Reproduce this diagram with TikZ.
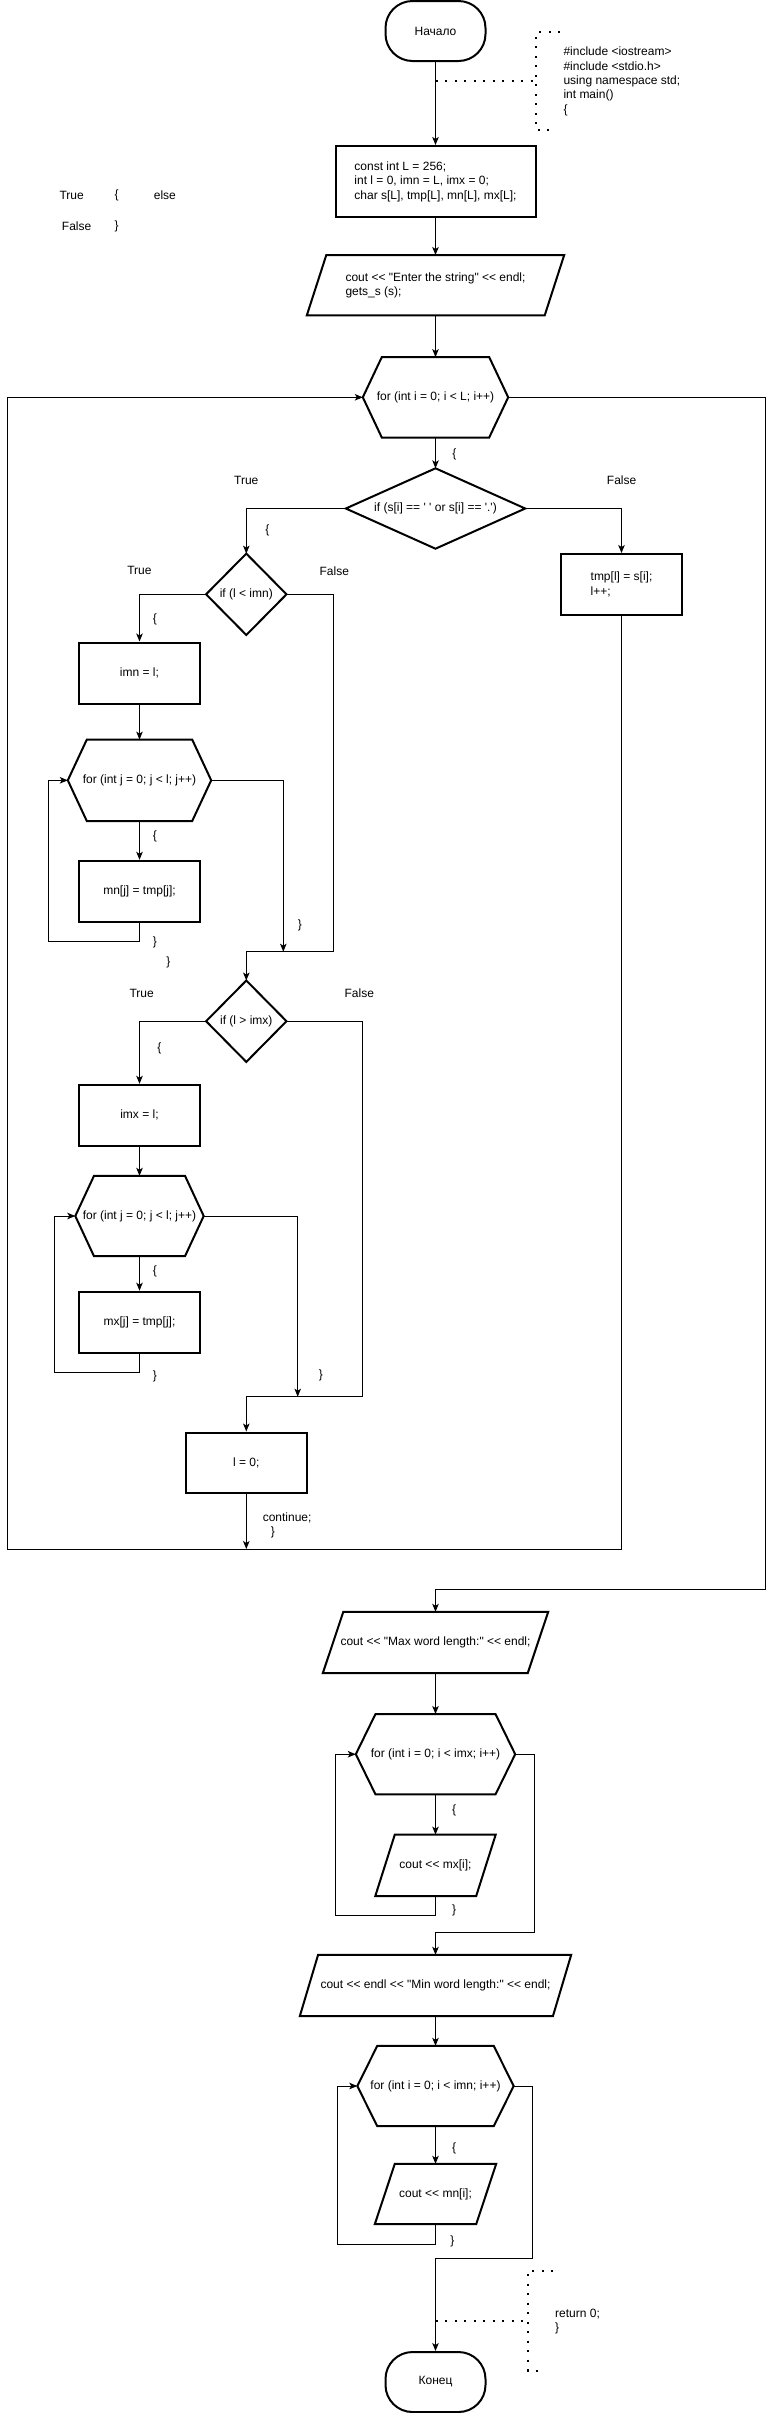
\documentclass[tikz,border=0pt]{standalone}
\usepackage{fontspec}
\setmainfont{Liberation Sans}[Ligatures=TeXOff]
\usetikzlibrary{arrows.meta}
\newcommand\drawhex[2]{\draw[shp] (#1.west) -- ([xshift=#2pt]#1.north west) -- ([xshift=-#2pt]#1.north east) -- (#1.east) -- ([xshift=-#2pt]#1.south east) -- ([xshift=#2pt]#1.south west) -- cycle;}
\newcommand\drawpara[2]{\draw[shp] ([xshift=#2pt]#1.north west) -- (#1.north east) -- ([xshift=-#2pt]#1.south east) -- (#1.south west) -- cycle;}
\newcommand\drawdiam[1]{\draw[shp] (#1.north) -- (#1.east) -- (#1.south) -- (#1.west) -- cycle;}
\tikzset{
  txt/.style={font=\fontsize{12}{14.4}\selectfont, inner sep=0pt, align=left},
  sz/.style 2 args={minimum width=#1pt, minimum height=#2pt},
  shp/.style={draw=black, line width=2pt, line join=miter},
  term/.style={txt, shp, rounded corners=27pt},
  conn/.style={draw=black, line width=1pt, -{Stealth[length=8pt,width=6.5pt,inset=2pt]}},
  dots/.style={draw=black, line width=2pt, dash pattern=on 2pt off 7.5pt}
}
\begin{document}
\begin{tikzpicture}[x=1pt,y=-1pt]
\useasboundingbox (0,0) rectangle (775,2413);
\fill[white] (0,0) rectangle (775,2413);

% ---------- nodes ----------
\node[term, sz={100}{60}] (start) at (435.5,31) {Начало};
\node[txt, shp, sz={200}{71}] (init) at (435.5,181.5) {const int L = 256;\\int l = 0, imn = L, imx = 0;\\char s[L], tmp[L], mn[L], mx[L];};
\node[txt, sz={257}{60}] (in1) at (435.5,285.2) {cout << "Enter the string" << endl;\\gets\_s (s);};
\drawpara{in1}{19.5}
\node[txt, sz={145}{80}] (for1) at (435.5,397.3) {for (int i = 0; i < L; i++)};
\drawhex{for1}{19}
\node[txt, sz={179}{80}] (if1) at (435.5,508.5) {if (s[i] == ' ' or s[i] == '.')};
\drawdiam{if1}
\node[txt, shp, sz={121}{61}] (tmp) at (621.5,584.5) {tmp[l] = s[i];\\l++;};
\node[txt, sz={80}{81}] (if2) at (246.3,594.3) {if (l < imn)};
\drawdiam{if2}
\node[txt, shp, sz={121}{61}] (imn) at (139.5,673) {imn = l;};
\node[txt, sz={143}{81}] (forj1) at (139.5,780.3) {for (int j = 0; j < l; j++)};
\drawhex{forj1}{19}
\node[txt, shp, sz={121}{61}] (mn) at (139.5,891.3) {mn[j] = tmp[j];};
\node[txt, sz={80}{81}] (if3) at (246.3,1021.2) {if (l > imx)};
\drawdiam{if3}
\node[txt, shp, sz={121}{61}] (imx) at (139.5,1115.3) {imx = l;};
\node[txt, sz={128}{80}] (forj2) at (139.5,1216) {for (int j = 0; j < l; j++)};
\drawhex{forj2}{18.7}
\node[txt, shp, sz={121}{61}] (mx) at (139.5,1322.2) {mx[j] = tmp[j];};
\node[txt, shp, sz={121}{60}] (l0) at (246.3,1462.5) {l = 0;};
\node[txt, sz={225}{61}] (outmax) at (435.5,1642.5) {cout << "Max word length:" << endl;};
\drawpara{outmax}{20.5}
\node[txt, sz={159}{80}] (for2) at (435.5,1754.2) {for (int i = 0; i < imx; i++)};
\drawhex{for2}{19.7}
\node[txt, sz={120}{61}] (outmx) at (435.5,1865.3) {cout << mx[i];};
\drawpara{outmx}{19.5}
\node[txt, sz={271}{61}] (outmin) at (435.5,1985.5) {cout << endl << "Min word length:" << endl;};
\drawpara{outmin}{18.3}
\node[txt, sz={156}{80}] (for3) at (435.5,2086) {for (int i = 0; i < imn; i++)};
\drawhex{for3}{20}
\node[txt, sz={121}{60}] (outmn) at (435.5,2194) {cout << mn[i];};
\drawpara{outmn}{20}
\node[term, sz={100}{60}] (end) at (435.5,2382) {Конец};

% ---------- free texts ----------
\node[txt] (tTrue) at (71.7,195) {True};
\node[txt] (tOb) at (116.7,195) {\{};
\node[txt] (tElse) at (164.9,195) {else};
\node[txt] (tFalse) at (76.6,226) {False};
\node[txt] (tCb) at (116.7,226) {\}};

\node[txt, anchor=west] (ann1) at (563.3,81.3) {\#include <iostream>\\\#include <stdio.h>\\using namespace std;\\int main()\\\{};
\node[txt, anchor=west] (ann2) at (555,2321.3) {return 0;\\\}};

% ---------- edge labels ----------
\node[txt] (lb1) at (454.3,454) {\{};
\node[txt] (lT1) at (246.3,480.7) {True};
\node[txt] (lF1) at (621.6,480.7) {False};
\node[txt] (lb2) at (267.5,530) {\{};
\node[txt] (lT2) at (139.4,570.7) {True};
\node[txt] (lF2) at (334.3,570.7) {False};
\node[txt] (lb3) at (155,619.3) {\{};
\node[txt] (lb4) at (155,836) {\{};
\node[txt] (lc1) at (155,942.3) {\}};
\node[txt] (lc2) at (168.3,962.3) {\}};
\node[txt] (lc3) at (300,925.7) {\}};
\node[txt] (lT3) at (141.7,993.3) {True};
\node[txt] (lF3) at (359.3,993.3) {False};
\node[txt] (lb5) at (159.3,1048.3) {\{};
\node[txt] (lb6) at (155,1271.7) {\{};
\node[txt] (lc4) at (155,1376.7) {\}};
\node[txt] (lc5) at (321,1375) {\}};
\node[txt, anchor=west] (lcont) at (262.6,1525.5) {continue;\\\hspace*{8pt}\}};
\node[txt] (lb7) at (454,1810.7) {\{};
\node[txt] (lc6) at (454,1910) {\}};
\node[txt] (lb8) at (454,2148.3) {\{};
\node[txt] (lc7) at (452.3,2241.7) {\}};

% ---------- coordinates ----------
\coordinate (d1) at (435.5,81);
\coordinate (b1) at (536,81);
\coordinate (d2) at (435.5,2321);
\coordinate (b2) at (528.3,2321);
\coordinate (lp1) at (48.3,941.3);
\coordinate (a1) at (283.3,951.7);
\coordinate (j1) at (333.3,951.7);
\coordinate (m1) at (246.3,951.7);
\coordinate (lp2) at (54.3,1372.3);
\coordinate (a2) at (297.7,1396.7);
\coordinate (j2) at (362.3,1396.7);
\coordinate (m2) at (246.3,1396.7);
\coordinate (c1) at (246.3,1549);
\coordinate (bl) at (7.4,1549);
\coordinate (ex1) at (765.5,1589);
\coordinate (lp3) at (335.7,1915);
\coordinate (ex2) at (534.3,1932.3);
\coordinate (lp4) at (337.7,2244);
\coordinate (ex3) at (532.3,2258.3);

% ---------- connectors ----------
\draw[conn] (start.south) -- (init.north);
\draw[conn] (init.south) -- (in1.north);
\draw[conn] (in1.south) -- (for1.north);
\draw[conn] (for1.south) -- (if1.north);
\draw[conn] (if1.west) -| (if2.north);
\draw[conn] (if1.east) -| (tmp.north);
\draw[conn] (if2.west) -| (imn.north);
\draw[conn] (imn.south) -- (forj1.north);
\draw[conn] (forj1.south) -- (mn.north);
\draw[conn] (mn.south) |- (lp1) |- (forj1.west);
\draw[conn] (forj1.east) -| (a1);
\draw[conn] (if2.east) -| (j1) -- (m1) -- (if3.north);
\draw[conn] (if3.west) -| (imx.north);
\draw[conn] (imx.south) -- (forj2.north);
\draw[conn] (forj2.south) -- (mx.north);
\draw[conn] (mx.south) |- (lp2) |- (forj2.west);
\draw[conn] (forj2.east) -| (a2);
\draw[conn] (if3.east) -| (j2) -- (m2) -- (l0.north);
\draw[conn] (l0.south) -- (c1);
\draw[conn] (tmp.south) |- (bl) |- (for1.west);
\draw[conn] (for1.east) -| (ex1) -| (outmax.north);
\draw[conn] (outmax.south) -- (for2.north);
\draw[conn] (for2.south) -- (outmx.north);
\draw[conn] (outmx.south) |- (lp3) |- (for2.west);
\draw[conn] (for2.east) -| (ex2) -| (outmin.north);
\draw[conn] (outmin.south) -- (for3.north);
\draw[conn] (for3.south) -- (outmn.north);
\draw[conn] (outmn.south) |- (lp4) |- (for3.west);
\draw[conn] (for3.east) -| (ex3) -| (end.north);

% ---------- annotations ----------
\draw[dots] (d1) -- (b1);
\draw[dots] (560,32.3) -- (536,32.3) -- (536,130) -- (552.3,130);
\draw[dots] (d2) -- (b2);
\draw[dots] (553.3,2270.7) -- (528.3,2270.7) -- (528.3,2370.7) -- (545,2370.7);
\end{tikzpicture}
\end{document}
